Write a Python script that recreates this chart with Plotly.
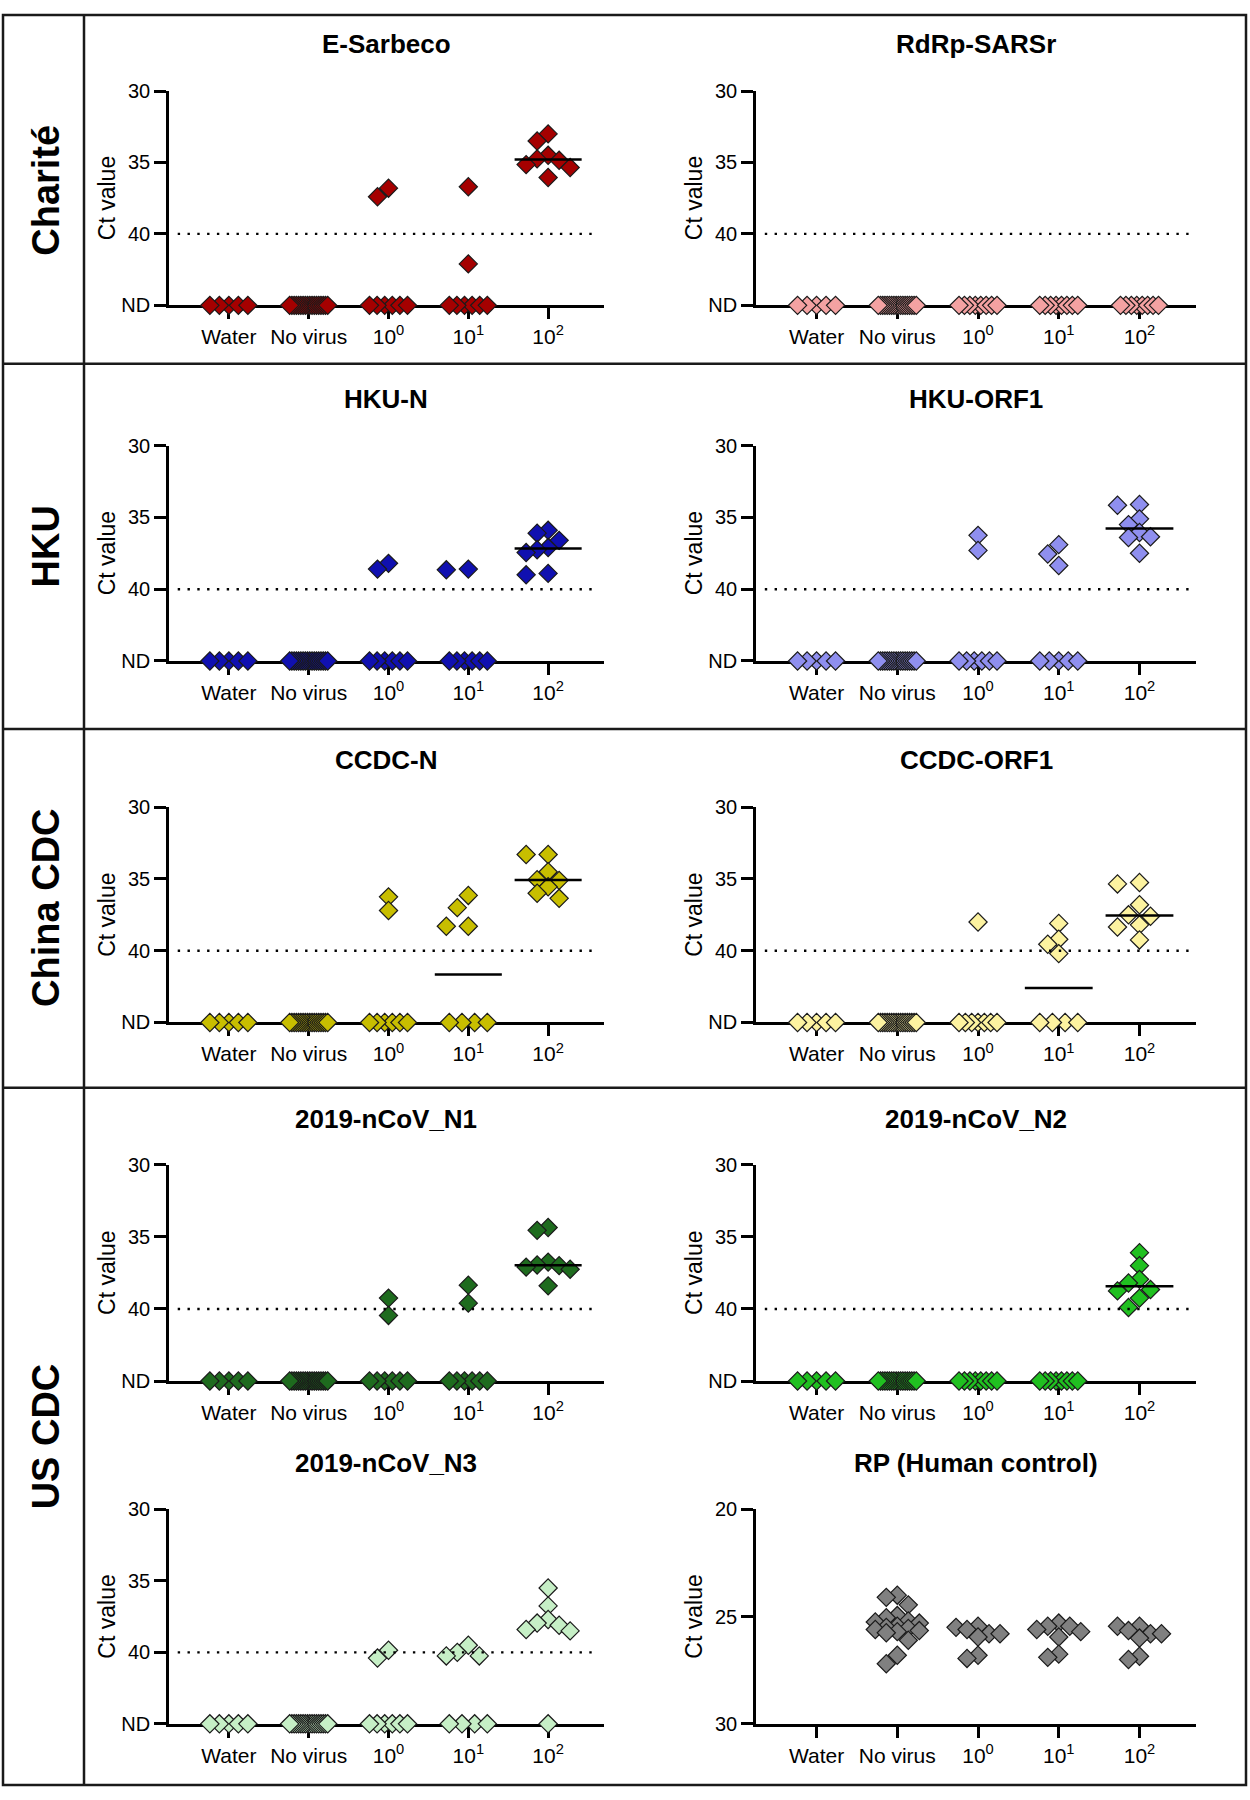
import plotly.graph_objects as go

# ------------------------------------------------------------------ data
N = "ND"  # not detected
CATEGORIES = ["Water", "No virus", "10<sup>0</sup>", "10<sup>1</sup>", "10<sup>2</sup>"]
CT_TICKVALS = [30, 35, 40, 45]
CT_TICKTEXT = ["30", "35", "40", "ND"]
RP_TICKVALS = [20, 25, 30]
ND_LEVEL = 45
CUTOFF = 40

WATER_ND = [N, N, N, N, N]
NO_VIRUS_ND = [N, N, N, N, N, N, N, N, N, N, N, N, N, N, N, N, N, N]
DIL_ALL_ND = [N, N, N, N, N, N, N, N]

E_SARBECO = [WATER_ND, NO_VIRUS_ND,
             [37.4, 36.8, N, N, N, N, N, N],
             [36.7, 42.1, N, N, N, N, N, N],
             [33.0, 33.5, 34.5, 34.75, 34.85, 35.15, 35.35, 36.05]]
RDRP_SARSR = [WATER_ND, NO_VIRUS_ND, DIL_ALL_ND, DIL_ALL_ND, DIL_ALL_ND]
HKU_N = [WATER_ND, NO_VIRUS_ND,
         [38.2, 38.6, N, N, N, N, N, N],
         [38.6, 38.65, N, N, N, N, N, N],
         [35.9, 36.1, 36.6, 37.1, 37.25, 37.45, 38.9, 39.0]]
HKU_ORF1 = [WATER_ND, NO_VIRUS_ND,
            [36.25, 37.3, N, N, N, N, N, N],
            [36.9, 37.55, 38.35, N, N, N, N, N],
            [34.1, 34.15, 35.1, 35.5, 36.05, 36.35, 36.4, 37.5]]
CCDC_N = [WATER_ND, NO_VIRUS_ND,
          [36.25, 37.2, N, N, N, N, N, N],
          [36.15, 37.0, 38.3, 38.3, N, N, N, N],
          [33.3, 33.3, 34.5, 35.05, 35.1, 35.55, 36.0, 36.35]]
CCDC_ORF1 = [WATER_ND, NO_VIRUS_ND,
             [38.0, N, N, N, N, N, N, N],
             [38.1, 39.2, 39.55, 40.2, N, N, N, N],
             [35.25, 35.35, 36.8, 37.5, 37.6, 38.2, 38.35, 39.25]]
NCOV_N1 = [WATER_ND, NO_VIRUS_ND,
           [39.25, 40.45, N, N, N, N, N, N],
           [38.35, 39.6, N, N, N, N, N, N],
           [34.35, 34.55, 36.75, 36.95, 37.0, 37.1, 37.25, 38.4]]
NCOV_N2 = [WATER_ND, NO_VIRUS_ND, DIL_ALL_ND, DIL_ALL_ND,
           [36.1, 37.0, 37.95, 38.2, 38.65, 38.75, 39.25, 39.9]]
NCOV_N3 = [WATER_ND, NO_VIRUS_ND,
           [39.85, 40.4, N, N, N, N, N, N],
           [39.5, 40.0, 40.25, 40.25, N, N, N, N],
           [35.5, 36.75, 37.7, 37.95, 38.1, 38.4, 38.5, N]]
RP_HUMAN = [[],
            [24.0, 24.1, 24.45, 24.95, 25.05, 25.2, 25.25, 25.3, 25.45,
             25.5, 25.55, 25.6, 25.65, 25.7, 25.75, 26.1, 26.8, 27.2],
            [25.45, 25.5, 25.6, 25.8, 25.8, 25.95, 26.8, 26.95],
            [25.3, 25.45, 25.45, 25.6, 25.7, 25.95, 26.75, 26.9],
            [25.45, 25.45, 25.65, 25.8, 25.8, 26.0, 26.85, 27.0]]

PANEL_TITLES = ["E-Sarbeco", "RdRp-SARSr", "HKU-N", "HKU-ORF1", "CCDC-N",
                "CCDC-ORF1", "2019-nCoV_N1", "2019-nCoV_N2", "2019-nCoV_N3",
                "RP (Human control)"]
PANEL_DATA = [E_SARBECO, RDRP_SARSR, HKU_N, HKU_ORF1, CCDC_N, CCDC_ORF1,
              NCOV_N1, NCOV_N2, NCOV_N3, RP_HUMAN]
PANEL_COLORS = ["#A50000", "#F4A2A2", "#1010B0", "#8F8FEF", "#C8BE00",
                "#FDF3A0", "#1E6B1E", "#20C020", "#C6EFC6", "#808080"]
PANEL_SHOW_MEDIAN = [True, True, True, True, True, True, True, True, False, False]
GROUP_LABELS = ["Charité", "HKU", "China CDC", "US CDC"]

# ------------------------------------------------------------------ geometry / style
W, H = 1250, 1800
FONT = "Liberation Sans, Arial, Helvetica, sans-serif"
COL_X = [(169, 604), (756, 1196)]
ROW_Y = [(81, 298), (440, 658), (806, 1024), (1168, 1387), (1517, 1734)]
TITLE_Y = [33, 393, 758, 1122, 1470]
X_RANGE = [-0.75, 4.7]
SECTION_Y = [357, 727, 1090]
LABEL_Y = [182, 542, 908, 1443]
BORDER = (3, 4, 1246, 1796)
DIVIDER_X = 84
ND_SPREAD = 19.0
CANDIDATES = [0.0, -11.0, 11.0, -22.0, 22.0]
MIN_SEP = 13.0
MEDIAN_HALF = 0.42
MARKER_SIZE = 14


def swarm_offsets(vals, y_ppu):
    """Return pixel x-offsets for a group and a drawing order."""
    offs = [0.0] * len(vals)
    nd = [k for k, v in enumerate(vals) if v == N]
    if len(nd) > 1:
        for j, k in enumerate(nd):
            offs[k] = -ND_SPREAD + 2 * ND_SPREAD * j / (len(nd) - 1)
    det = sorted([k for k, v in enumerate(vals) if v != N], key=lambda k: vals[k])
    placed = []
    for k in det:
        y = vals[k] * y_ppu
        best, best_pen = 0.0, float("inf")
        for cnd in CANDIDATES:
            pen = max([MIN_SEP - (abs(cnd - px) + abs(y - py)) for px, py in placed],
                      default=-1)
            if pen <= 0:
                best = cnd
                break
            if pen < best_pen:
                best_pen, best = pen, cnd
        offs[k] = best
        placed.append((best, y))
    # draw the inner ND points first so the outer ones sit on top
    order = sorted(range(len(vals)),
                   key=lambda k: (vals[k] != N, abs(offs[k]) if vals[k] == N else 0))
    return offs, order


def median(v):
    s = sorted(v)
    n = len(s)
    if n == 0:
        return None
    return s[n // 2] if n % 2 else (s[n // 2 - 1] + s[n // 2]) / 2


fig = go.Figure()
layout = dict(width=W, height=H, margin=dict(l=0, r=0, t=0, b=0),
              paper_bgcolor="white", plot_bgcolor="white", showlegend=False,
              font=dict(family=FONT, color="black"))
shapes, annotations = [], []
median_traces = []

for i, (title, data, color) in enumerate(zip(PANEL_TITLES, PANEL_DATA, PANEL_COLORS)):
    r, c = divmod(i, 2)
    ax = "" if i == 0 else str(i + 1)
    xref, yref = "x" + ax, "y" + ax
    x0, x1 = COL_X[c]
    yt, yb = ROW_Y[r]
    is_rp = title.startswith("RP")
    yr = [30, 20] if is_rp else [ND_LEVEL, 30]
    x_ppu = (x1 - x0) / (X_RANGE[1] - X_RANGE[0])
    y_ppu = (yb - yt) / abs(yr[0] - yr[1])

    layout["xaxis" + ax] = dict(
        domain=[x0 / W, x1 / W], range=X_RANGE, anchor=yref,
        tickmode="array", tickvals=list(range(len(CATEGORIES))), ticktext=CATEGORIES,
        showline=True, linecolor="black", linewidth=2.5, ticks="outside",
        ticklen=11, tickwidth=2.5, tickcolor="black", showgrid=False, zeroline=False,
        tickfont=dict(size=21, family=FONT, color="black"), layer="below traces",
        fixedrange=True)
    layout["yaxis" + ax] = dict(
        domain=[1 - yb / H, 1 - yt / H], range=yr, anchor=xref,
        tickmode="array", tickvals=RP_TICKVALS if is_rp else CT_TICKVALS,
        ticktext=[str(v) for v in RP_TICKVALS] if is_rp else CT_TICKTEXT,
        showline=True, linecolor="black", linewidth=2.5, ticks="outside",
        ticklen=12, tickwidth=2.5, tickcolor="black", showgrid=False, zeroline=False,
        tickfont=dict(size=20, family=FONT, color="black"), layer="below traces",
        fixedrange=True)

    for g, vals in enumerate(data):
        if not vals:
            continue
        yv = [ND_LEVEL if v == N else v for v in vals]
        offs, order = swarm_offsets(vals, y_ppu)
        xs = [g + offs[k] / x_ppu for k in order]
        ys = [yv[k] for k in order]
        fig.add_trace(go.Scatter(
            x=xs, y=ys, xaxis=xref, yaxis=yref, mode="markers", cliponaxis=False,
            marker=dict(symbol="diamond", size=MARKER_SIZE, color=color,
                        line=dict(color="#1a1a1a", width=1.2)),
            hoverinfo="skip", showlegend=False))
        med = median(yv)
        if PANEL_SHOW_MEDIAN[i] and med is not None and med < ND_LEVEL:
            median_traces.append(go.Scatter(
                x=[g - MEDIAN_HALF, g + MEDIAN_HALF], y=[med, med], xaxis=xref,
                yaxis=yref, mode="lines", line=dict(color="black", width=2.5),
                cliponaxis=False, hoverinfo="skip", showlegend=False))

    if not is_rp:
        shapes.append(dict(type="line", xref=xref + " domain", yref=yref,
                           x0=0.02, x1=0.985, y0=CUTOFF, y1=CUTOFF,
                           line=dict(color="black", width=2.4, dash="2.4px,7.4px")))

    annotations.append(dict(
        text="<b>%s</b>" % title, xref="paper", yref="paper",
        x=(x0 + x1) / 2 / W, y=1 - TITLE_Y[r] / H, xanchor="center", yanchor="middle",
        showarrow=False, font=dict(size=26, family=FONT, color="black")))
    annotations.append(dict(
        text="Ct value", xref="paper", yref="paper", textangle=-90,
        x=(x0 - 62) / W, y=1 - (yt + yb) / 2 / H, xanchor="center", yanchor="middle",
        showarrow=False, font=dict(size=23, family=FONT, color="black")))

for t in median_traces:
    fig.add_trace(t)

for lbl, ly in zip(GROUP_LABELS, LABEL_Y):
    annotations.append(dict(
        text="<b>%s</b>" % lbl, xref="paper", yref="paper", textangle=-90,
        x=46 / W, y=1 - ly / H, xanchor="center", yanchor="middle", showarrow=False,
        font=dict(size=38, family=FONT, color="black")))

bx0, by0, bx1, by1 = BORDER
frame = dict(color="#1a1a1a", width=2.5)
shapes.append(dict(type="rect", xref="paper", yref="paper", x0=bx0 / W, x1=bx1 / W,
                   y0=1 - by1 / H, y1=1 - by0 / H, line=frame))
shapes.append(dict(type="line", xref="paper", yref="paper", x0=DIVIDER_X / W,
                   x1=DIVIDER_X / W, y0=1 - by1 / H, y1=1 - by0 / H, line=frame))
for sy in SECTION_Y:
    shapes.append(dict(type="line", xref="paper", yref="paper", x0=bx0 / W, x1=bx1 / W,
                       y0=1 - sy / H, y1=1 - sy / H, line=frame))

layout["shapes"] = shapes
layout["annotations"] = annotations
fig.update_layout(**layout)

fig.write_html("out.html", config={"displayModeBar": False},
               post_script="document.body.style.margin='0';")
